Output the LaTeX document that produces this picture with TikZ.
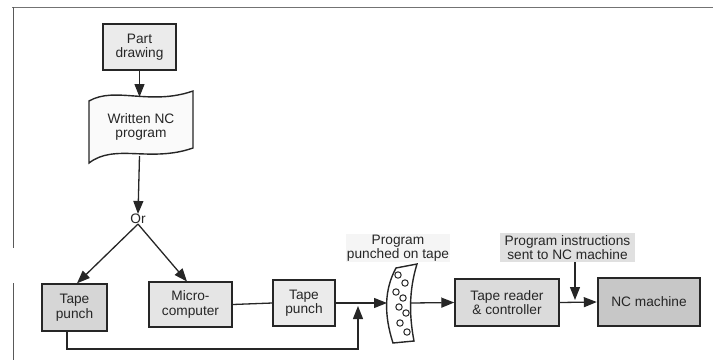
\documentclass[tikz,border=0pt]{standalone}
\usepackage{fontspec}
\setmainfont{Liberation Sans}
\usetikzlibrary{arrows.meta,calc}
\tikzset{
  box/.style={draw=black!85, line width=1.4pt, align=center, inner sep=0pt, text=black!85, font=\fontsize{13.7}{14.5}\selectfont},
  lbl/.style={align=center, inner sep=0pt, text=black!85, font=\fontsize{13.7}{14.5}\selectfont},
  conn/.style={draw=black!85, line width=1.3pt},
  arr/.style={conn, -{Triangle[length=13pt,width=10pt]}},
}
\begin{document}
\begin{tikzpicture}[x=1pt,y=-1pt]
\useasboundingbox (0,0) rectangle (713,360);
% page frame remnants
\draw[black!55, line width=0.9pt] (12,7) -- (713,7);
\draw[black!65, line width=0.9pt] (13,7) -- (13,248);
\draw[black!65, line width=0.9pt] (13,283) -- (13,360);

% nodes
\node[box, fill=black!8, minimum width=73pt, minimum height=46pt] (part) at (139.5,47) {Part\\drawing};
\draw[line width=1.4pt, black!85, fill=black!2]
  (89,101) .. controls (115,86) and (150,106) .. (193,91) -- (193,148)
  .. controls (150,163) and (115,143) .. (89,163) -- cycle;
\node[lbl] (written) at (141,127) {Written NC\\program};
\coordinate (wtop) at (139.5,97);
\coordinate (wbot) at (139.5,156);
\node[lbl] (or) at (138,219) {Or};

\node[box, fill=black!16, minimum width=65pt, minimum height=47pt] (tp1) at (74.5,307.5) {Tape\\punch};
\node[box, fill=black!10, minimum width=83pt, minimum height=45pt] (micro) at (190.5,304.5) {Micro-\\computer};
\node[box, fill=black!8, minimum width=62pt, minimum height=46pt] (tp2) at (304,303) {Tape\\punch};

% punched tape
\draw[line width=1.4pt, black!85, fill=white]
  (396,268) -- (417,264) .. controls (409,290) and (409,315) .. (414,341)
  -- (393,343) .. controls (384,315) and (384,290) .. (396,268) -- cycle;
\foreach \p in {(398,275),(405,283),(396,292),(403,298),(399,307),(406,313),(400,323),(407,332)}
  \draw[line width=1pt, black!85] \p circle (3.2pt);
\coordinate (tapeL) at (387,303);
\coordinate (tapeR) at (411,303);
\node[lbl, fill=black!4, inner sep=1pt] (plbl) at (398,248) {Program\\punched on tape};

\node[box, fill=black!14, minimum width=104pt, minimum height=47pt] (reader) at (507,302.5) {Tape reader\\\& controller};
\node[box, fill=black!22, line width=2.4pt, minimum width=102pt, minimum height=48pt] (nc) at (649,302) {NC machine};
\node[lbl, fill=black!12, minimum width=135pt, minimum height=29pt] (ilbl) at (567.5,247.5) {Program instructions\\sent to NC machine};

% connectors
\draw[arr] (part.south) -- (wtop);
\draw[arr] (wbot) -- (or.north);
\draw[arr] (or.south) -- (tp1.north -| 77,0);
\draw[arr] (or.south) -- (187,281.5);
\draw[conn] (micro.east) -- (tp2.west);
\draw[arr] (tp2.east) -- (tapeL);
\coordinate (tp1b) at ($(tp1.south)+(-7.5,0)$);
\coordinate (loopc) at (358,349);
\draw[arr] (tp1b) |- (loopc) -- (358,306);
\draw[arr] (tapeR) -- (reader.west);
\draw[arr] (reader.east) -- (nc.west);
\coordinate (ia) at (ilbl.south -| 575,0);
\draw[arr] (ia) -- (575,300);
\end{tikzpicture}
\end{document}
